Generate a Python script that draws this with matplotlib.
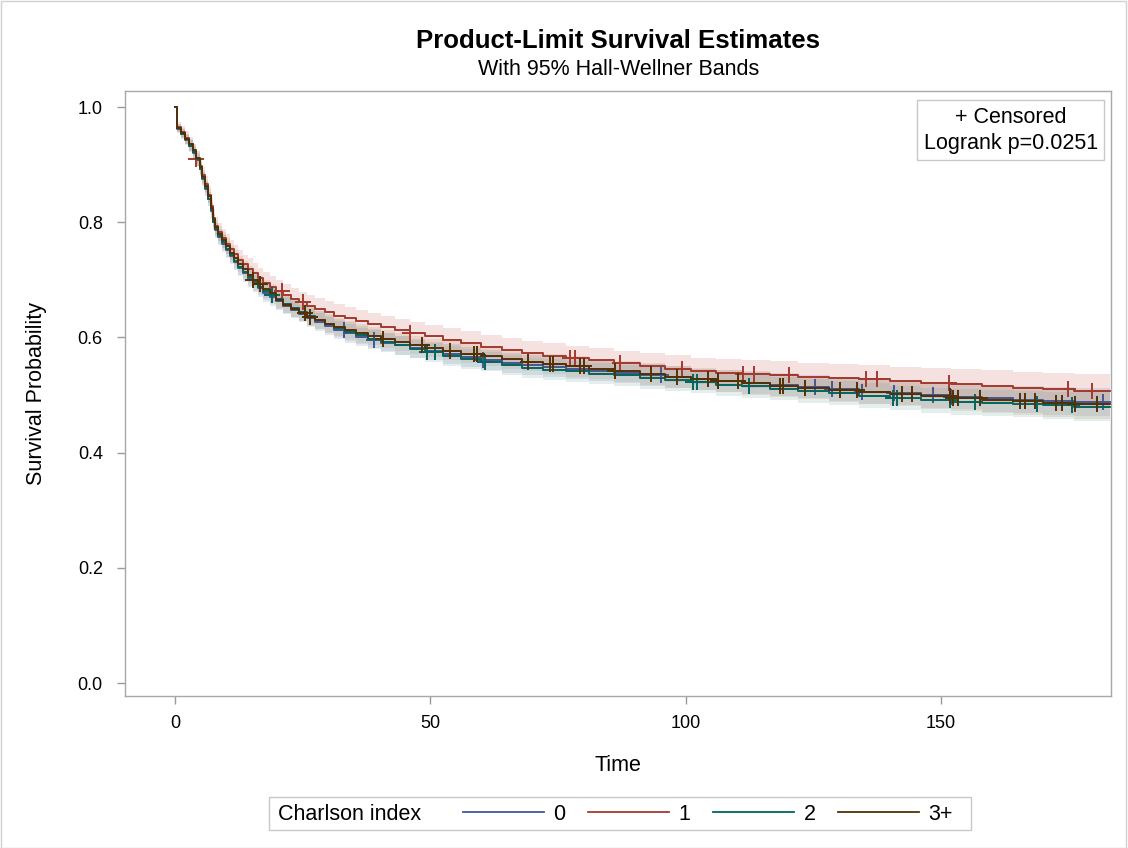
import matplotlib
matplotlib.use("Agg")
import matplotlib.pyplot as plt
from matplotlib.lines import Line2D
from matplotlib.patches import Rectangle
import numpy as np

plt.rcParams['font.family'] = ['Liberation Sans', 'DejaVu Sans']

# Data
times = [0, 0.3, 1.2, 2.0, 2.8, 3.5, 4.2, 4.8, 5.3, 5.9, 6.5, 7.0, 7.4, 7.9, 8.5, 9.2,
         10.0, 10.8, 11.6, 12.4, 13.3, 14.2, 15.2, 16.2, 17.3, 18.5, 19.8, 21.2, 22.7,
         24.2, 25.8, 27.5, 29.3, 31.2, 33.2, 35.4, 37.8, 40.3, 43.0, 46.0, 49.0, 52.5,
         56.0, 60.0, 64.0, 68.0, 72.0, 76.5, 81.0, 86.0, 91.0, 96.0, 101.0, 106.0,
         111.0, 116.5, 122.0, 128.0, 134.0, 140.0, 146.0, 152.0, 158.0, 164.0, 170.0, 176.0]
end_time = 183

surv_0 = [1.0, 0.962, 0.953, 0.943, 0.932, 0.921, 0.908, 0.892, 0.875, 0.858, 0.840, 0.820,
          0.800, 0.786, 0.774, 0.763, 0.752, 0.741, 0.731, 0.721, 0.711, 0.702, 0.693, 0.685,
          0.677, 0.670, 0.663, 0.655, 0.648, 0.641, 0.634, 0.627, 0.620, 0.613, 0.607, 0.601,
          0.596, 0.591, 0.586, 0.581, 0.576, 0.571, 0.566, 0.561, 0.556, 0.552, 0.549, 0.546,
          0.542, 0.539, 0.535, 0.531, 0.527, 0.524, 0.521, 0.518, 0.514, 0.510, 0.506, 0.503,
          0.500, 0.497, 0.494, 0.492, 0.490, 0.488]
surv_1 = [1.0, 0.965, 0.957, 0.947, 0.936, 0.924, 0.910, 0.897, 0.882, 0.866, 0.848, 0.828,
          0.808, 0.794, 0.783, 0.772, 0.762, 0.753, 0.744, 0.735, 0.727, 0.719, 0.711, 0.703,
          0.695, 0.688, 0.681, 0.674, 0.667, 0.661, 0.655, 0.649, 0.644, 0.638, 0.633, 0.628,
          0.623, 0.618, 0.613, 0.608, 0.602, 0.596, 0.590, 0.584, 0.578, 0.573, 0.568, 0.564,
          0.560, 0.555, 0.551, 0.546, 0.542, 0.539, 0.537, 0.535, 0.532, 0.529, 0.527, 0.524,
          0.521, 0.519, 0.516, 0.513, 0.510, 0.507]
surv_2 = [1.0, 0.964, 0.954, 0.944, 0.933, 0.922, 0.909, 0.893, 0.876, 0.859, 0.841, 0.821,
          0.801, 0.788, 0.776, 0.765, 0.754, 0.743, 0.733, 0.723, 0.714, 0.705, 0.696, 0.688,
          0.680, 0.673, 0.666, 0.658, 0.651, 0.644, 0.637, 0.630, 0.623, 0.616, 0.610, 0.604,
          0.598, 0.592, 0.586, 0.580, 0.574, 0.568, 0.563, 0.558, 0.552, 0.547, 0.544, 0.541,
          0.537, 0.534, 0.530, 0.526, 0.522, 0.518, 0.515, 0.511, 0.507, 0.503, 0.499, 0.495,
          0.491, 0.488, 0.486, 0.484, 0.482, 0.480]
surv_3 = [1.0, 0.963, 0.955, 0.945, 0.935, 0.925, 0.912, 0.895, 0.878, 0.862, 0.845, 0.825,
          0.805, 0.791, 0.780, 0.769, 0.758, 0.747, 0.737, 0.727, 0.718, 0.709, 0.700, 0.692,
          0.684, 0.677, 0.665, 0.657, 0.650, 0.643, 0.636, 0.630, 0.624, 0.618, 0.613, 0.607,
          0.602, 0.597, 0.592, 0.587, 0.582, 0.577, 0.572, 0.567, 0.562, 0.558, 0.554, 0.550,
          0.545, 0.541, 0.537, 0.532, 0.528, 0.524, 0.520, 0.516, 0.513, 0.509, 0.505, 0.502,
          0.498, 0.495, 0.492, 0.489, 0.486, 0.484]

# half-width of the Hall-Wellner band at each time
band_half = [0.0, 0.007, 0.008, 0.009, 0.010, 0.010, 0.011, 0.011, 0.012, 0.012, 0.012, 0.013,
             0.013, 0.013, 0.013, 0.014, 0.014, 0.014, 0.014, 0.014, 0.014, 0.015, 0.015, 0.015,
             0.015, 0.015, 0.015, 0.015, 0.015, 0.015, 0.016, 0.016, 0.016, 0.016, 0.016, 0.016,
             0.016, 0.016, 0.016, 0.016, 0.016, 0.017, 0.017, 0.017, 0.017, 0.017, 0.018, 0.018,
             0.018, 0.018, 0.019, 0.019, 0.019, 0.019, 0.020, 0.020, 0.020, 0.021, 0.021, 0.021,
             0.022, 0.022, 0.023, 0.023, 0.024, 0.025]
band_scale = [1.0, 1.2, 1.0, 1.0]

cens_0 = [33.0, 38.9, 60.3, 95.2, 106.4, 125.3, 128.6, 134.5, 140.7, 148.5, 152.0, 181.7]
cens_1 = [4.2, 21.0, 25.0, 46.0, 77.3, 78.3, 87.1, 99.2, 111.3, 113.3, 120.2, 135.4, 137.5,
          151.6, 174.8, 179.5]
cens_2 = [18.9, 49.3, 50.9, 60.7, 101.5, 102.3, 112.3, 140.6, 141.3, 151.8, 156.7, 168.7, 175.6]
cens_3 = [15.3, 16.6, 25.5, 26.4, 40.8, 48.3, 53.8, 58.5, 59.2, 69.2, 73.4, 74.1, 79.3, 80.0,
          86.2, 93.3, 98.2, 104.4, 106.4, 110.3, 118.5, 119.1, 123.4, 130.2, 133.5, 142.3,
          144.3, 151.8, 152.4, 153.4, 157.6, 165.5, 166.4, 168.4, 172.6, 173.6, 176.2, 180.5]

groups = ['0', '1', '2', '3+']
survs = [surv_0, surv_1, surv_2, surv_3]
censs = [cens_0, cens_1, cens_2, cens_3]
line_colors = ['#445694', '#A23A2E', '#01665E', '#543005']
band_colors = ['#6F7EB3', '#D05B5B', '#66A5A0', '#B8905A']

fig = plt.figure(figsize=(11.28, 8.48), dpi=100)
ax = fig.add_axes([0.1108, 0.1792, 0.8742, 0.7135])

t = np.array(times + [end_time])
hw = np.array(band_half + [band_half[-1]])

# bands first
for s, col, k in zip(survs, band_colors, band_scale):
    s = np.array(s + [s[-1]])
    ax.fill_between(t, s - hw * k, np.minimum(s + hw * k, 1.0), step='post',
                    color=col, alpha=0.18, linewidth=0)

# curves and censor marks
for s, c, col in zip(survs, censs, line_colors):
    s_ext = np.array(s + [s[-1]])
    ax.step(t, s_ext, where='post', color=col, linewidth=1.4)
    idx = np.searchsorted(t, c, side='right') - 1
    ax.plot(c, s_ext[idx], linestyle='none', marker='+', markersize=11,
            markeredgewidth=1.4, color=col)

ax.set_xlim(-9.8, 183.3)
ax.set_ylim(-0.0226, 1.0278)
ax.set_xticks([0, 50, 100, 150])
ax.set_yticks([0.0, 0.2, 0.4, 0.6, 0.8, 1.0])
ax.set_yticklabels(['0.0', '0.2', '0.4', '0.6', '0.8', '1.0'])
ax.tick_params(axis='both', direction='out', length=6, width=1, color='#9a9a9a',
               labelsize=13, labelcolor='black')
ax.tick_params(axis='y', pad=10)
ax.tick_params(axis='x', pad=8)
for sp in ax.spines.values():
    sp.set_color('#a8a8a8')
    sp.set_linewidth(1)

ax.set_xlabel('Time', fontsize=15.5, labelpad=16)
ax.set_ylabel('Survival Probability', fontsize=15.5, labelpad=22)

# titles
fig.text(0.548, 0.952, 'Product-Limit Survival Estimates', ha='center', va='center',
         fontsize=18.5, fontweight='bold')
fig.text(0.548, 0.918, 'With 95% Hall-Wellner Bands', ha='center', va='center', fontsize=15.5)

# inset box
ax.text(0.9865, 0.974, '+ Censored\nLogrank p=0.0251', transform=ax.transAxes,
        ha='right', va='top', multialignment='center', fontsize=15.5, linespacing=1.3,
        bbox=dict(boxstyle='square,pad=0.3', facecolor='white', edgecolor='#c8c8c8'))

# bottom legend
fig.patches.append(Rectangle((269 / 1128, 1 - 830 / 848), (971 - 269) / 1128, 33 / 848,
                             transform=fig.transFigure, facecolor='white',
                             edgecolor='#c8c8c8', linewidth=1))
fig.text(278 / 1128, 1 - 814 / 848, 'Charlson index', ha='left', va='center', fontsize=15.5)
handles = [Line2D([], [], color=c, linewidth=1.3) for c in line_colors]
fig.legend(handles, groups, loc='center left', bbox_to_anchor=(463 / 1128, 1 - 814 / 848),
           ncol=4, frameon=False, fontsize=15.5, handlelength=3.75, handletextpad=0.45,
           columnspacing=1.05, borderpad=0, borderaxespad=0)

# outer border
fig.patches.append(Rectangle((0.0005, 0.0005), 0.998, 0.998, transform=fig.transFigure,
                             fill=False, edgecolor='#d0d0d0', linewidth=1))

fig.savefig('out.png', dpi=100)
